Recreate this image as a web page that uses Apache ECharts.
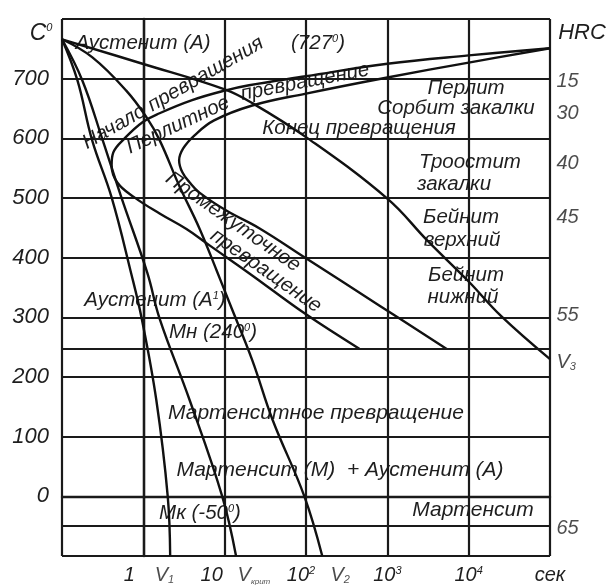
<!DOCTYPE html>
<html>
<head>
<meta charset="utf-8">
<script src="https://cdn.jsdelivr.net/npm/echarts@6/dist/echarts.min.js"></script>
<style>
html, body { margin: 0; padding: 0; background: #fff; }
#chart { width: 611px; height: 585px; }
</style>
</head>
<body>
<div id="chart"></div>
<script>
var beginLg = [5.0, 4.0, 3.0, 2.0, 1.3, 1.0, 0.6, 0.2, -0.01, -0.23, -0.37, -0.39, -0.32, -0.11, 0.2, 0.53, 0.81, 1.3, 2.0, 2.66];
var beginT  = [751, 739, 725, 704, 689, 680, 664, 642, 627, 600, 576, 555, 526, 501, 474, 448, 421, 374, 305, 247];
var endLg = [5.0, 4.0, 3.0, 2.0, 1.34, 0.87, 0.63, 0.49, 0.44, 0.48, 0.57, 0.69, 1.02, 1.43, 2.0, 2.9, 3.73];
var endT  = [751, 727, 702, 675, 655, 630, 605, 583, 563, 543, 526, 509, 479, 449, 399, 320, 247];
var v1Lg = [-1, -0.81, -0.63, -0.39, -0.15, -0.02, 0.16, 0.30, 0.33];
var v1T  = [766, 697, 597, 501, 374, 298, 161, 0, -100];
var vkrLg = [-1, -0.75, -0.5, -0.27, 0.05, 0.2, 0.57, 0.97, 1.14];
var vkrT  = [766, 697, 597, 501, 374, 298, 161, 0, -100];
var v2Lg = [-1, -0.63, -0.21, 0.04, 0.2, 0.44, 0.69, 0.9, 1.06, 1.34, 1.59, 1.98, 2.2];
var v2T  = [766, 736, 680, 635, 597, 521, 449, 379, 324, 228, 128, 0, -100];
var v3Lg = [-1, -0.01, 1.0, 1.34, 2.0, 3.0, 3.49, 4.0, 4.4, 5.0];
var v3T  = [766, 725, 682, 659, 602, 499, 429, 360, 302, 230];
var mnT = 247;  // Мн (240)
var mkT = -50;  // Мк

// подписи
var xTickText = ['', '{a|1}', '{b|10}', '10{s2|2}', '10{s|3}', '10{s|4}', 'сек'];
var hrcText = ['15', '30', '40', '45', '55', 'V{sub|3}', '65'];
var hrcT    = [695, 642, 558, 468, 303, 225, -53];
var vText = ['V{sub|1}', 'V{subs|крит}', 'V{sub|2}'];
var vLg   = [0.26, 1.36, 2.42];

var FAM = '"Liberation Sans", Arial, sans-serif';
var INK = '#1e1e1e';
var TS = 20.5;
function fnt(sz) { return 'italic ' + sz + 'px ' + FAM; }

var richG = {
  sup: { font: fnt(11), fill: INK, verticalAlign: 'top' },
  sub: { font: fnt(11), fill: INK, verticalAlign: 'bottom' },
  subs: { font: fnt(8), fill: INK, verticalAlign: 'bottom' }
};
var richL = {
  a: { fontStyle: 'italic', fontFamily: FAM, fontSize: 20, color: INK, padding: [0, 28, 0, 0] },
  b: { fontStyle: 'italic', fontFamily: FAM, fontSize: 20, color: INK, padding: [0, 26, 0, 0] },
  s: { fontStyle: 'italic', fontFamily: FAM, fontSize: 11, color: INK, verticalAlign: 'top' },
  s2: { fontStyle: 'italic', fontFamily: FAM, fontSize: 11, color: INK, verticalAlign: 'top', padding: [0, 10, 0, 0] },
  sub: { fontStyle: 'italic', fontFamily: FAM, fontSize: 11, color: INK, verticalAlign: 'bottom' },
  subs: { fontStyle: 'italic', fontFamily: FAM, fontSize: 8, color: INK, verticalAlign: 'bottom' }
};

function zip(a, b) {
  return a.map(function (v, i) { return [v, b[i]]; });
}

function txt(s, x, y, size, rot) {
  return {
    type: 'text', x: x, y: y, rotation: (rot || 0) * Math.PI / 180, silent: true,
    style: { text: s, font: fnt(size), fill: INK, align: 'center', verticalAlign: 'middle', rich: richG }
  };
}

function curve(name, lg, t) {
  return {
    name: name, type: 'line', data: zip(lg, t), smooth: 0.4, showSymbol: false,
    lineStyle: { color: '#111', width: 2.4 }, silent: true
  };
}

var chart = echarts.init(document.getElementById('chart'));

var series = [
  curve('Начало превращения', beginLg, beginT),
  curve('Конец превращения', endLg, endT),
  curve('V1', v1Lg, v1T),
  curve('Vкрит', vkrLg, vkrT),
  curve('V2', v2Lg, v2T),
  curve('V3', v3Lg, v3T)
];
series[0].markLine = {
  silent: true, symbol: 'none', label: { show: false },
  lineStyle: { color: '#1a1a1a', width: 2.2, type: 'solid' },
  data: [{ yAxis: mnT }, { yAxis: mkT }]
};
series.push({
  type: 'scatter', symbolSize: 1, itemStyle: { color: 'rgba(0,0,0,0)' }, silent: true,
  data: hrcText.map(function (s, i) { return { name: s, value: [5, hrcT[i]] }; }),
  label: {
    show: true, position: 'right', distance: 6, formatter: '{b}',
    fontStyle: 'italic', fontFamily: FAM, fontSize: 20, color: INK, rich: richL
  }
});
series.push({
  type: 'scatter', symbolSize: 1, itemStyle: { color: 'rgba(0,0,0,0)' }, silent: true,
  data: vText.map(function (s, i) { return { name: s, value: [vLg[i], -100] }; }),
  label: {
    show: true, position: 'bottom', distance: 9, formatter: '{b}',
    fontStyle: 'italic', fontFamily: FAM, fontSize: 20, color: INK, rich: richL
  }
});

var option = {
  animation: false,
  backgroundColor: '#fff',
  grid: { left: 62, right: 61, top: 19, bottom: 29 },
  xAxis: {
    type: 'value', min: -1, max: 5, interval: 1,
    axisLine: { show: true, lineStyle: { color: '#1a1a1a', width: 2.4 } },
    axisTick: { show: false },
    splitLine: { show: true, lineStyle: { color: '#1a1a1a', width: 2.2 } },
    axisLabel: {
      margin: 9, fontStyle: 'italic', fontFamily: FAM, fontSize: 20, color: INK, rich: richL,
      formatter: function (v) { return xTickText[Math.round(v) + 1] || ''; }
    }
  },
  yAxis: {
    type: 'value', min: -100, max: 800, interval: 100,
    axisLine: { show: true, lineStyle: { color: '#1a1a1a', width: 2.4 } },
    axisTick: { show: false },
    splitLine: { show: true, lineStyle: { color: '#1a1a1a', width: 2.2 } },
    axisLabel: {
      margin: 13, fontStyle: 'italic', fontFamily: FAM, fontSize: 22, color: INK,
      formatter: function (v) { return (v >= 0 && v <= 700) ? String(v) : ''; }
    }
  },
  graphic: [
    txt('C{sup|0}', 41, 34, 23),
    txt('HRC', 582, 33, 22),
    txt('Аустенит (А)', 143, 43, TS),
    txt('(727{sup|0})', 318, 43, TS),
    txt('Начало превращения', 173, 93, TS, 30),
    txt('Перлитное', 178, 125, TS, 25),
    txt('превращение', 305, 82, TS, 11),
    txt('Конец превращения', 359, 128, TS),
    txt('Перлит', 466, 88, TS),
    txt('Сорбит закалки', 456, 108, TS),
    txt('Троостит', 470, 162, TS),
    txt('закалки', 454, 184, TS),
    txt('Бейнит', 461, 217, TS),
    txt('верхний', 462, 240, TS),
    txt('Бейнит', 466, 275, TS),
    txt('нижний', 463, 297, TS),
    txt('Промежуточное', 233, 222, TS, -35),
    txt('превращение', 266, 271, TS, -35),
    txt('Аустенит (А{sup|1})', 155, 300, TS),
    txt('Мн (240{sup|0})', 213, 332, TS),
    txt('Мартенситное превращение', 316, 413, TS + 0.5),
    txt('Мартенсит (М)  + Аустенит (А)', 340, 470, TS + 0.5),
    txt('Мк (-50{sup|0})', 200, 513, TS),
    txt('Мартенсит', 473, 510, TS + 0.5)
  ],
  series: series
};

chart.setOption(option);
</script>
</body>
</html>
